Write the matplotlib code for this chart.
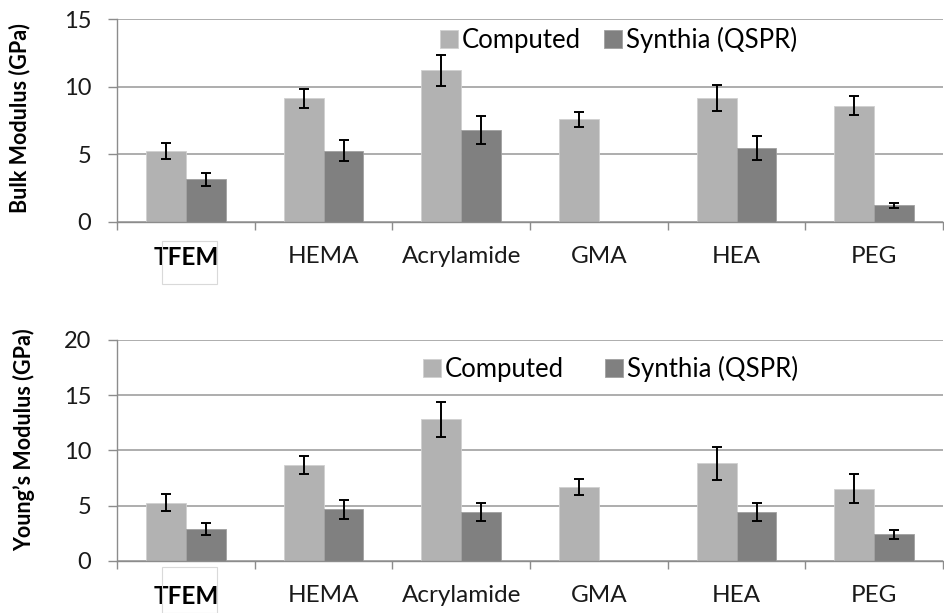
import matplotlib.pyplot as plt
import numpy as np
from matplotlib.patches import Rectangle

monomers = ["TFEM", "HEMA", "Acrylamide", "GMA", "HEA", "PEG"]

bulk_computed = [5.27, 9.15, 11.2, 7.6, 9.15, 8.58]
bulk_computed_err = [0.6, 0.7, 1.15, 0.55, 0.97, 0.7]
bulk_synthia = [3.15, 5.27, 6.8, np.nan, 5.47, 1.23]
bulk_synthia_err = [0.5, 0.8, 1.05, np.nan, 0.88, 0.2]

young_computed = [5.27, 8.7, 12.8, 6.7, 8.85, 6.52]
young_computed_err = [0.77, 0.8, 1.6, 0.7, 1.5, 1.3]
young_synthia = [2.92, 4.68, 4.4, np.nan, 4.45, 2.42]
young_synthia_err = [0.55, 0.85, 0.83, np.nan, 0.8, 0.42]

light = "#b2b2b2"
dark = "#808080"
axis_gray = "#8c8c8c"

plt.rcParams["font.family"] = ["Lato", "DejaVu Sans"]

fig = plt.figure(figsize=(9.44, 6.13), dpi=100)
ax_top = fig.add_axes([0.124, 0.638, 0.875, 0.331])
ax_bot = fig.add_axes([0.124, 0.085, 0.875, 0.3605])


def draw_panel(ax, comp, comp_err, syn, syn_err, ymax, ylabel, leg_xy, col_gap,
               label_xy):
    x = np.arange(len(monomers))
    w = 0.29
    ax.bar(x - w / 2, comp, w, color=light, edgecolor="#d0d0d0", linewidth=0.6,
           label="Computed", zorder=2)
    ax.bar(x + w / 2, syn, w, color=dark, edgecolor="#a0a0a0", linewidth=0.6,
           label="Synthia (QSPR)", zorder=2)
    ax.errorbar(x - w / 2, comp, yerr=comp_err, fmt="none", ecolor="black",
                elinewidth=1.4, capsize=3.3, capthick=1.4, zorder=3)
    ax.errorbar(x + w / 2, syn, yerr=syn_err, fmt="none", ecolor="black",
                elinewidth=1.4, capsize=3.3, capthick=1.4, zorder=3)

    ax.set_xlim(-0.5, len(monomers) - 0.5)
    ax.set_ylim(0, ymax)
    ax.set_yticks(np.arange(0, ymax + 1, 5))
    ax.yaxis.grid(True, color="#a0a0a0", linewidth=1.2, zorder=0)
    ax.set_axisbelow(True)

    for side in ["top", "right"]:
        ax.spines[side].set_visible(False)
    for side in ["left", "bottom"]:
        ax.spines[side].set_color(axis_gray)
        ax.spines[side].set_linewidth(1.0)

    ax.tick_params(axis="y", length=6.5, width=1.0, color=axis_gray,
                   labelsize=17, pad=12, labelcolor="#1a1a1a")
    # category borders carry the tick marks, names sit between them
    ax.set_xticks(np.arange(-0.5, len(monomers)))
    ax.set_xticklabels([])
    ax.set_xticks(x, minor=True)
    ax.set_xticklabels(monomers, minor=True)
    ax.tick_params(axis="x", which="major", length=6, width=1.0, color=axis_gray)
    ax.tick_params(axis="x", which="minor", length=0, labelsize=17.5, pad=17,
                   labelcolor="#1a1a1a")
    ax.get_xticklabels(minor=True)[0].set_fontweight("bold")
    ax.get_xticklabels(minor=True)[0].set_color("black")

    ax.set_ylabel(ylabel, fontsize=15.5, fontweight="bold")
    ax.yaxis.set_label_coords(*label_xy)

    ax.legend(loc="center", bbox_to_anchor=leg_xy, ncol=2, frameon=False,
              fontsize=18.5, handlelength=0.7, handleheight=0.7,
              handletextpad=0.15, columnspacing=col_gap, borderaxespad=0)


draw_panel(ax_top, bulk_computed, bulk_computed_err, bulk_synthia,
           bulk_synthia_err, 15, "Bulk Modulus (GPa)", (0.607, 0.897), 0.9,
           (-0.105, 0.512))
draw_panel(ax_bot, young_computed, young_computed_err, young_synthia,
           young_synthia_err, 20, "Young\u2019s Modulus (GPa)", (0.597, 0.869), 1.6,
           (-0.099, 0.548))

# thin frames around the TFEM labels
for y0, h in [(0.537, 0.070), (0.0, 0.075)]:
    fig.patches.append(Rectangle((0.1716, y0), 0.0583, h, transform=fig.transFigure,
                                 fill=False, edgecolor="#d9d9d9", linewidth=0.8))

fig.savefig("out.png", dpi=100)
